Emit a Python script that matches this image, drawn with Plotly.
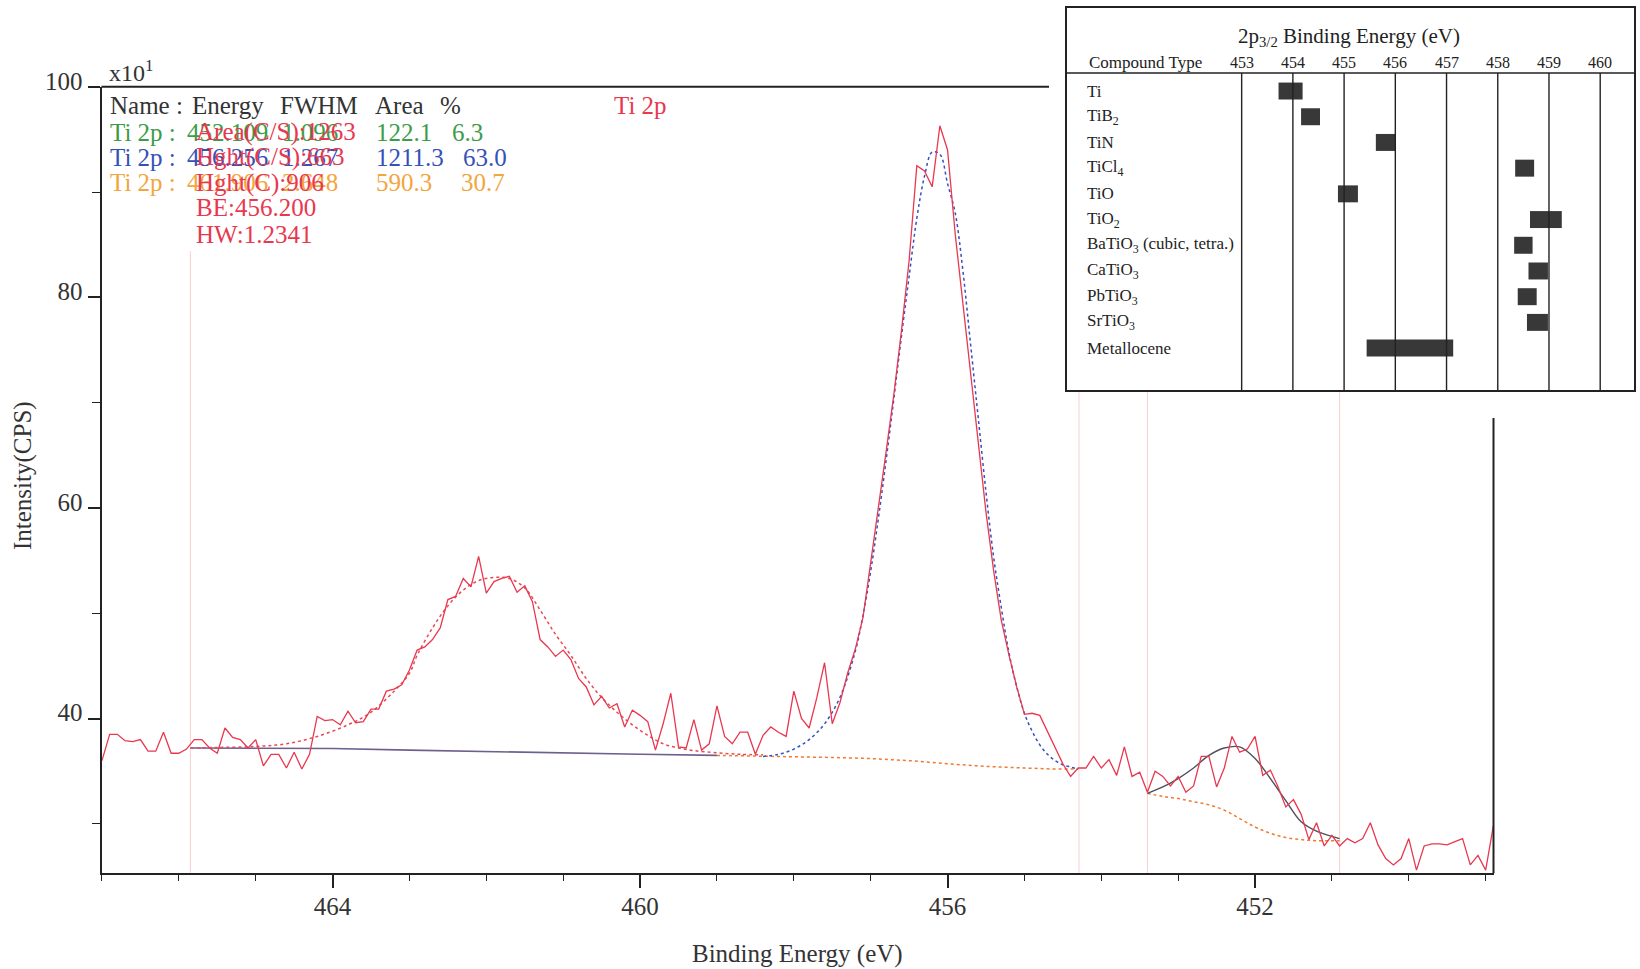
import plotly.graph_objects as go

W, H = 1640, 969
FONT = "Liberation Serif"

# ---------------- raw Ti 2p spectrum (x10 CPS) ----------------
raw_be = [467.0, 466.9, 466.8, 466.7, 466.6, 466.5, 466.4, 466.3, 466.2, 466.1,
          466.0, 465.9, 465.8, 465.7, 465.6, 465.5, 465.4, 465.3, 465.2, 465.1,
          465.0, 464.9, 464.8, 464.7, 464.6, 464.5, 464.4, 464.3, 464.2, 464.1,
          464.0, 463.9, 463.8, 463.7, 463.6, 463.5, 463.4, 463.3, 463.2, 463.1,
          463.0, 462.9, 462.8, 462.7, 462.6, 462.5, 462.4, 462.3, 462.2, 462.1,
          462.0, 461.9, 461.8, 461.7, 461.6, 461.5, 461.4, 461.3, 461.2, 461.1,
          461.0, 460.9, 460.8, 460.7, 460.6, 460.5, 460.4, 460.3, 460.2, 460.1,
          460.0, 459.9, 459.8, 459.7, 459.6, 459.5, 459.4, 459.3, 459.2, 459.1,
          459.0, 458.9, 458.8, 458.7, 458.6, 458.5, 458.4, 458.3, 458.2, 458.1,
          458.0, 457.9, 457.8, 457.7, 457.6, 457.5, 457.4, 457.3, 457.2, 457.1,
          457.0, 456.9, 456.8, 456.7, 456.6, 456.5, 456.4, 456.3, 456.2, 456.1,
          456.0, 455.9, 455.8, 455.7, 455.6, 455.5, 455.4, 455.3, 455.2, 455.1,
          455.0, 454.9, 454.8, 454.7, 454.6, 454.5, 454.4, 454.3, 454.2, 454.1,
          454.0, 453.9, 453.8, 453.7, 453.6, 453.5, 453.4, 453.3, 453.2, 453.1,
          453.0, 452.9, 452.8, 452.7, 452.6, 452.5, 452.4, 452.3, 452.2, 452.1,
          452.0, 451.9, 451.8, 451.7, 451.6, 451.5, 451.4, 451.3, 451.2, 451.1,
          451.0, 450.9, 450.8, 450.7, 450.6, 450.5, 450.4, 450.3, 450.2, 450.1,
          450.0, 449.9, 449.8, 449.7, 449.6, 449.5, 449.4, 449.3, 449.2, 449.1,
          449.0, 448.9]
raw_cps = [36.0, 38.5, 38.5, 37.9, 37.8, 38.0, 36.9, 36.9, 38.7, 36.7,
           36.7, 37.1, 38.0, 38.0, 37.2, 36.7, 39.1, 38.2, 38.0, 37.2,
           38.0, 35.5, 36.6, 36.6, 35.3, 36.8, 35.2, 36.6, 40.2, 39.8,
           39.9, 39.4, 40.7, 39.6, 39.7, 40.9, 40.9, 42.6, 42.8, 43.2,
           44.6, 46.5, 46.8, 47.5, 48.6, 51.3, 51.6, 53.3, 52.5, 55.4,
           51.9, 53.0, 53.3, 53.5, 52.0, 52.6, 51.1, 47.5, 46.8, 45.9,
           46.5, 45.6, 43.8, 43.0, 41.3, 42.1, 41.0, 41.4, 39.2, 40.8,
           40.3, 39.7, 37.0, 39.5, 42.4, 37.3, 37.2, 39.9, 37.0, 37.6,
           41.2, 38.3, 37.6, 38.7, 38.7, 36.6, 38.4, 39.2, 38.7, 38.3,
           42.6, 40.0, 39.1, 42.0, 45.3, 39.5, 41.5, 44.3, 46.6, 49.6,
           54.8, 60.3, 65.3, 70.7, 76.8, 83.5, 92.5, 92.0, 90.5, 96.3,
           94.0, 86.0, 79.5, 72.5, 66.0, 59.6, 54.0, 49.3, 46.0, 43.0,
           40.4, 40.5, 40.3, 38.8, 37.2, 35.7, 34.5, 35.3, 35.3, 36.4,
           35.3, 36.1, 34.6, 37.3, 34.5, 34.9, 33.0, 35.0, 34.5, 33.6,
           34.5, 33.0, 33.6, 36.4, 36.4, 33.5, 35.3, 38.3, 36.8, 37.1,
           38.3, 34.6, 35.1, 33.5, 31.6, 32.3, 30.9, 28.5, 30.1, 27.9,
           28.9, 27.9, 28.6, 28.2, 28.6, 30.1, 28.0, 26.7, 26.1, 26.7,
           28.6, 25.6, 27.9, 28.1, 28.1, 28.0, 28.3, 28.6, 26.1, 27.0,
           25.6, 29.8]

# ---------------- fitted curves ----------------
bg1_be = [465.85, 465.0, 464.0, 463.0, 462.0, 461.0, 460.0, 459.0]
bg1_cps = [37.2, 37.2, 37.15, 37.0, 36.85, 36.7, 36.6, 36.5]

bg2_be = [459.0, 458.5, 458.0, 457.5, 457.0, 456.5, 456.0, 455.5, 455.0, 454.6, 454.3]
bg2_cps = [36.5, 36.45, 36.4, 36.3, 36.2, 36.0, 35.7, 35.45, 35.3, 35.2, 35.2]

fit12_be = [465.85, 465.5, 465.0, 464.6, 464.2, 463.8, 463.5, 463.2, 463.0, 462.9,
            462.7, 462.5, 462.3, 462.1, 461.9, 461.7, 461.5, 461.3, 461.1, 460.9,
            460.7, 460.5, 460.3, 460.1, 459.9, 459.7, 459.5, 459.3, 459.0, 458.7, 458.4]
fit12_cps = [37.2, 37.25, 37.35, 37.6, 38.3, 39.4, 40.6, 42.6, 44.3, 46.0,
             48.6, 50.7, 52.2, 53.1, 53.4, 53.3, 52.4, 50.3, 48.0, 46.0,
             43.8, 42.0, 40.6, 39.4, 38.4, 37.6, 37.2, 36.95, 36.75, 36.6, 36.55]

fit32_be = [458.4, 458.2, 458.0, 457.8, 457.6, 457.4, 457.2, 457.1, 457.0, 456.9,
            456.8, 456.7, 456.6, 456.5, 456.4, 456.3, 456.2, 456.1, 456.0, 455.9,
            455.8, 455.7, 455.6, 455.5, 455.4, 455.3, 455.2, 455.1, 455.0, 454.9,
            454.8, 454.7, 454.6, 454.5, 454.4, 454.3]
fit32_cps = [36.4, 36.6, 37.1, 38.0, 39.5, 42.0, 46.4, 49.8, 54.0, 59.0,
             64.5, 70.3, 76.3, 82.0, 87.5, 91.5, 93.8, 93.6, 90.8, 88.0,
             82.5, 75.5, 68.5, 61.5, 55.3, 50.5, 46.2, 43.0, 40.5, 38.8,
             37.5, 36.6, 36.0, 35.6, 35.4, 35.2]

fitsm_be = [453.4, 453.2, 453.0, 452.8, 452.6, 452.4, 452.2, 452.0, 451.8, 451.6,
            451.4, 451.2, 451.0, 450.9]
fitsm_cps = [32.9, 33.5, 34.3, 35.3, 36.5, 37.2, 37.3, 36.2, 34.3, 32.2,
             30.2, 29.3, 28.8, 28.6]

bg3_be = [453.4, 453.2, 453.0, 452.8, 452.6, 452.4, 452.2, 452.0, 451.8, 451.6,
          451.4, 451.2, 450.9]
bg3_cps = [32.9, 32.6, 32.4, 32.1, 31.8, 31.3, 30.5, 29.7, 29.1, 28.7,
           28.5, 28.4, 28.4]

marker_be = [465.85, 454.29, 453.4, 450.9]
marker_top = [84.4, 100, 100, 100]

# ---------------- peak table text ----------------
peak_colors = ["#3c9c48", "#3551b8", "#f2a640"]
peak_energy = ["452.109", "456.256", "461.906"]
peak_fwhm = ["1.096", "1.267", "2.648"]
peak_area = ["122.1", "1211.3", "590.3"]
peak_pct = ["6.3", "63.0", "30.7"]
marker_info = ["Area(C/S):1263", "Hght(C/S):663", "Hght(C):906", "BE:456.200", "HW:1.2341"]

# ---------------- reference table (inset) ----------------
compounds = ["Ti", "TiB<sub>2</sub>", "TiN", "TiCl<sub>4</sub>", "TiO", "TiO<sub>2</sub>",
             "BaTiO<sub>3</sub> (cubic, tetra.)", "CaTiO<sub>3</sub>", "PbTiO<sub>3</sub>",
             "SrTiO<sub>3</sub>", "Metallocene"]
be_low = [453.72, 454.16, 455.62, 458.34, 454.88, 458.63, 458.32, 458.60, 458.39, 458.57, 455.44]
be_high = [454.19, 454.53, 456.00, 458.71, 455.27, 459.25, 458.68, 458.98, 458.76, 458.98, 457.13]
ref_ticks = [453, 454, 455, 456, 457, 458, 459, 460]


def px(x):
    return x / W


def py(y):
    return 1 - y / H


RED = "#e8384f"
fig = go.Figure()

# main spectrum traces
fig.add_trace(go.Scatter(x=bg1_be, y=bg1_cps, mode="lines",
                         line=dict(color="#6e5f8f", width=1.6), xaxis="x", yaxis="y"))
fig.add_trace(go.Scatter(x=bg2_be, y=bg2_cps, mode="lines",
                         line=dict(color="#f07a30", width=1.5, dash="dot")))
fig.add_trace(go.Scatter(x=bg3_be, y=bg3_cps, mode="lines", line_shape="spline",
                         line=dict(color="#f07a30", width=1.5, dash="dot")))
fig.add_trace(go.Scatter(x=fit12_be, y=fit12_cps, mode="lines", line_shape="spline",
                         line=dict(color="#e84a55", width=1.5, dash="dot")))
fig.add_trace(go.Scatter(x=fit32_be, y=fit32_cps, mode="lines", line_shape="spline",
                         line=dict(color="#3550c0", width=1.5, dash="dot")))
fig.add_trace(go.Scatter(x=fitsm_be, y=fitsm_cps, mode="lines", line_shape="spline",
                         line=dict(color="#4f4f60", width=1.4)))
fig.add_trace(go.Scatter(x=raw_be, y=raw_cps, mode="lines",
                         line=dict(color=RED, width=1.3)))

# inset bars
fig.add_trace(go.Bar(y=list(range(len(compounds))),
                     x=[h - l for l, h in zip(be_low, be_high)],
                     base=be_low, orientation="h", width=0.66,
                     marker=dict(color="#383838", line=dict(width=0)),
                     xaxis="x2", yaxis="y2"))

shapes = []
# fit-region marker lines
for b, t in zip(marker_be, marker_top):
    shapes.append(dict(type="line", xref="x", yref="y", x0=b, x1=b, y0=25.3, y1=t,
                       line=dict(color="rgba(240,150,150,0.45)", width=1), layer="below"))
# partial top and right frame of the main plot
shapes.append(dict(type="line", xref="paper", yref="paper", x0=px(101.5), x1=px(1049),
                   y0=py(86.8), y1=py(86.8), line=dict(color="#222", width=2)))
shapes.append(dict(type="line", xref="paper", yref="paper", x0=px(1493.5), x1=px(1493.5),
                   y0=py(418), y1=py(873.3), line=dict(color="#222", width=2)))
# inset grid lines and header separator
for t in ref_ticks:
    shapes.append(dict(type="line", xref="x2", yref="y2", x0=t, x1=t, y0=-0.7, y1=11.63,
                       line=dict(color="#222", width=1.4)))
shapes.append(dict(type="line", xref="x2", yref="y2", x0=449.59, x1=460.66, y0=-0.7, y1=-0.7,
                   line=dict(color="#222", width=1.4)))

ann = []


def txt(x, y, s, color="#333", size=25, anchor="left", **kw):
    ann.append(dict(x=px(x), y=py(y), xref="paper", yref="paper", text=s, showarrow=False,
                    xanchor=anchor, yanchor="middle",
                    font=dict(family=FONT, size=size, color=color), **kw))


# axis titles
txt(797, 954, "Binding Energy (eV)", size=25, anchor="center")
txt(23, 476, "Intensity(CPS)", size=25, anchor="center", textangle=-90)
txt(107, 71, "x10<sup>1</sup>", size=24)

# peak table
row_y = [106, 132, 157, 183, 208, 234]
txt(108, row_y[0], "Name :")
txt(190, row_y[0], "Energy")
txt(278, row_y[0], "FWHM")
txt(373, row_y[0], "Area")
txt(438, row_y[0], "%")
txt(612, row_y[0], "Ti 2p", color=RED)
pct_x = [450, 461, 459]
for i in range(3):
    c = peak_colors[i]
    y = row_y[i + 1]
    txt(108, y, "Ti 2p :", color=c)
    txt(185, y, peak_energy[i], color=c)
    txt(280, y, peak_fwhm[i], color=c)
    txt(374, y, peak_area[i], color=c)
    txt(pct_x[i], y, peak_pct[i], color=c)
for i, s in enumerate(marker_info):
    txt(194, row_y[i + 1], s, color=RED)

# inset texts
ann.append(dict(x=455.1, y=-2.12, xref="x2", yref="y2", showarrow=False, xanchor="center",
                text="2p<sub>3/2</sub> Binding Energy (eV)",
                font=dict(family=FONT, size=21, color="#222")))
ann.append(dict(x=449.98, y=-1.1, xref="x2", yref="y2", showarrow=False, xanchor="left",
                text="Compound Type", font=dict(family=FONT, size=17, color="#222")))
for t in ref_ticks:
    ann.append(dict(x=t, y=-1.1, xref="x2", yref="y2", showarrow=False, xanchor="center",
                    text=str(t), font=dict(family=FONT, size=16, color="#222")))
for i, c in enumerate(compounds):
    ann.append(dict(x=449.95, y=i, xref="x2", yref="y2", showarrow=False, xanchor="left",
                    text=c, font=dict(family=FONT, size=17, color="#222")))

fig.update_layout(
    width=W, height=H, autosize=False,
    margin=dict(l=0, r=0, t=0, b=0, pad=0, autoexpand=False),
    paper_bgcolor="white", plot_bgcolor="white",
    showlegend=False,
    shapes=shapes, annotations=ann,
    xaxis=dict(domain=[px(101.5), px(1493.5)], range=[467.006, 448.898], automargin=False,
               showgrid=False, zeroline=False, showline=True, linecolor="#222", linewidth=2,
               ticks="outside", tickmode="linear", tick0=464, dtick=4, ticklen=13,
               tickwidth=1.6, tickcolor="#222", ticklabelstandoff=-3,
               tickfont=dict(family=FONT, size=25, color="#333"),
               minor=dict(dtick=1, tick0=464, ticks="outside", ticklen=6, tickwidth=1.4,
                          tickcolor="#222", showgrid=False)),
    yaxis=dict(domain=[py(873.3), py(86.8)], range=[25.3, 100], automargin=False,
               showgrid=False, zeroline=False, showline=True, linecolor="#222", linewidth=2,
               ticks="outside", tickmode="linear", tick0=0, dtick=20, ticklen=12,
               tickwidth=1.6, tickcolor="#222", ticklabelshift=-6,
               tickfont=dict(family=FONT, size=25, color="#333"),
               minor=dict(dtick=10, tick0=0, ticks="outside", ticklen=8, tickwidth=1.4,
                          tickcolor="#222", showgrid=False)),
    xaxis2=dict(domain=[px(1067), px(1634)], range=[449.59, 460.66], anchor="y2",
                automargin=False,
                showgrid=False, zeroline=False, showline=True, mirror=True,
                linecolor="#222", linewidth=1.5, showticklabels=False, ticks=""),
    yaxis2=dict(domain=[py(390), py(8)], range=[11.63, -3.23], anchor="x2",
                automargin=False,
                showgrid=False, zeroline=False, showline=True, mirror=True,
                linecolor="#222", linewidth=1.5, showticklabels=False, ticks=""),
)

fig.write_html("out.html")
